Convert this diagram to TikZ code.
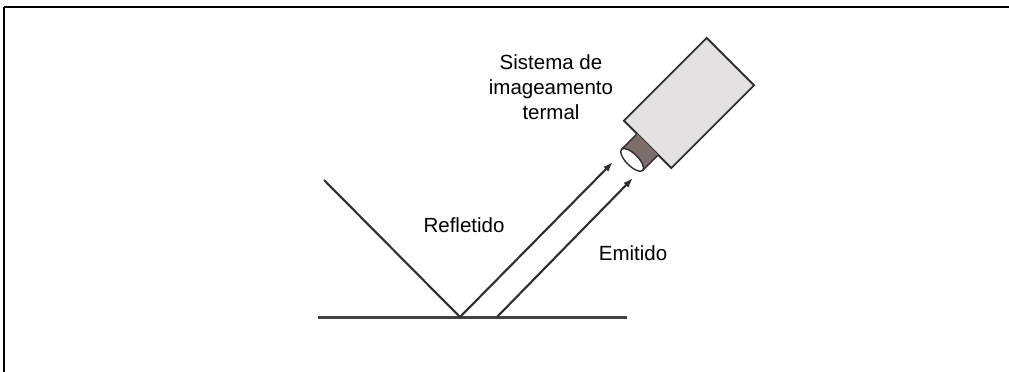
\documentclass[tikz,border=0pt]{standalone}
\usepackage{fontspec}
\setmainfont{Liberation Sans}
\usetikzlibrary{arrows.meta}

\definecolor{raygray}{HTML}{2E2E2E}
\definecolor{bodygray}{HTML}{E3E1E1}
\definecolor{lensbrown}{HTML}{7D6C6C}

\tikzset{
  ray/.style={draw=raygray, line width=2.1pt},
  rayarrow/.style={ray, -{Latex[length=10pt,width=7pt]}},
  ground/.style={draw=raygray!90, line width=3pt},
  camera/.style={draw=raygray, line width=1.9pt, fill=bodygray,
    minimum width=117pt, minimum height=67pt, inner sep=0pt},
  lbl/.style={font=\fontsize{20.5}{25}\selectfont, text=black, inner sep=0pt}
}

\begin{document}
\begin{tikzpicture}[x=1pt,y=-1pt]
  \useasboundingbox (0,0) rectangle (1009,372);
  % frame
  \draw[line width=2.5pt] (4,7) -- (1009,7);
  \draw[line width=1.2pt] (4,7) -- (4,372);

  % surface and rays
  \coordinate (gl) at (318,317);
  \coordinate (gr) at (627,317);
  \coordinate (hitR) at (460,317);
  \coordinate (hitE) at (497,317);
  \coordinate (src) at (324,180);
  \coordinate (tipR) at (613,162);
  \coordinate (tipE) at (633,178);

  \draw[ground] (gl) -- (gr);
  \draw[ray] (src) -- (hitR);
  \draw[rayarrow] (hitR) -- (tipR);
  \draw[rayarrow] (hitE) -- (tipE);

  % camera body and lens
  \node[camera, rotate=45] (cam) at (689,103) {};
  \begin{scope}[shift={(cam.west)}, rotate=-135]
    \fill[lensbrown] (-1,-15) rectangle (21,15);
    \draw[raygray, line width=1.4pt] (0,-15) -- (21,-15);
    \draw[raygray, line width=1.4pt] (0,15) -- (21,15);
    \draw[raygray, line width=1.4pt, fill=white] (21,0) ellipse [x radius=6, y radius=15];
  \end{scope}

  % labels
  \node[lbl, align=center] (label) at (551,87) {Sistema de\\imageamento\\termal};
  \node[lbl] (refl) at (464,225) {Refletido};
  \node[lbl] (emit) at (633,253) {Emitido};
\end{tikzpicture}
\end{document}
